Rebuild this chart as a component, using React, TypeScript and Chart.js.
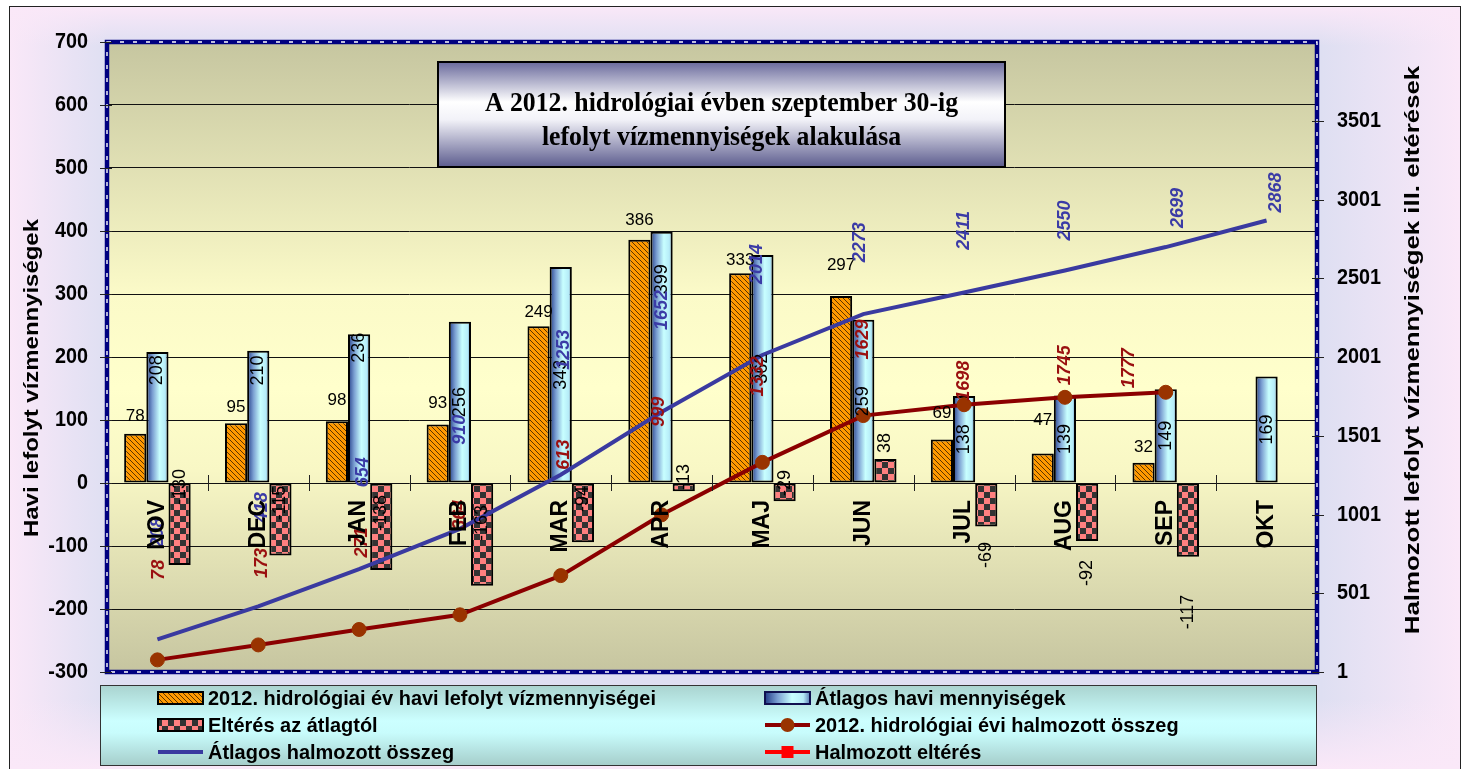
import React, { useEffect, useRef } from "react";
import { Chart, registerables } from "chart.js";
Chart.register(...registerables);

// ---------- data ----------
const months = ["NOV", "DEC", "JAN", "FEB", "MAR", "APR", "MAJ", "JUN", "JUL", "AUG", "SEP", "OKT"];
const monthly2012 = [78, 95, 98, 93, 249, 386, 333, 297, 69, 47, 32, null];
const monthlyAvg = [208, 210, 236, 256, 343, 399, 362, 259, 138, 139, 149, 169];
const deviation = [-130, -115, -138, -163, -94, -13, -29, 38, -69, -92, -117, null];
const cum2012 = [78, 173, 271, 364, 613, 999, 1332, 1629, 1698, 1745, 1777, null];
const cumAvg = [208, 418, 654, 910, 1253, 1652, 2014, 2273, 2411, 2550, 2699, 2868];
const cumDeviation: (number | null)[] = [null, null, null, null, null, null, null, null, null, null, null, null];

const seriesNames = [
  "2012. hidrológiai év havi lefolyt vízmennyiségei",
  "Átlagos havi mennyiségek",
  "Eltérés az átlagtól",
  "2012. hidrológiai évi halmozott összeg",
  "Átlagos halmozott összeg",
  "Halmozott eltérés",
];
const titleLines = ["A 2012. hidrológiai évben szeptember 30-ig", "lefolyt vízmennyiségek alakulása"];
const leftAxisTitle = "Havi lefolyt vízmennyiségek";
const rightAxisTitle = "Halmozott lefolyt vízmennyiségek ill. eltérések";

// label placement tweaks (as in the original, hand-placed labels)
const orangeLabelGap = [13, 11, 16, 16, 9, 15, 8, 26, 22, 28, 11, 0];
const avgLabelPos = [0.86, 0.85, 0.91, 0.5, 0.5, 0.81, 0.5, 0.5, 0.5, 0.5, 0.5, 0.5];
const devLabelShift = [4, 20, 30, 40, 16, -6, 0, -40, 72, 90, 129, 0];
const cum2012LabelDy = [-90, -82, -87, -100, -121, -103, -86, -76, -24, -32, -24, 0];
const cum2012LabelDx = [2, 4, 3, 0, 3, -3, -4, 0, 0, 0, -37, 0];
const cumAvgLabelDy = [-107, -99, -97, -99, -125, -102, -91, -72, -62, -50, -39, -28];
const cumAvgLabelDx = [1, 4, 4, 0, 3, 0, -5, -3, 0, 0, 12, 9];

const SANS = "'Liberation Sans', Arial, Helvetica, sans-serif";
const SERIF = "'Liberation Serif', 'Times New Roman', serif";
const CAT_PCT = 0.66;

type TxtOpt = { font: string; color?: string; align?: CanvasTextAlign; baseline?: CanvasTextBaseline; rot?: number; sx?: number };
function txt(ctx: CanvasRenderingContext2D, s: string, x: number, y: number, o: TxtOpt) {
  ctx.save();
  ctx.translate(x, y);
  if (o.rot) ctx.rotate(o.rot);
  if (o.sx) ctx.scale(o.sx, 1);
  ctx.font = o.font;
  ctx.fillStyle = o.color || "#000";
  ctx.textAlign = o.align || "center";
  ctx.textBaseline = o.baseline || "middle";
  ctx.fillText(s, 0, 0);
  ctx.restore();
}

function makeHatch(): CanvasPattern | string {
  const c = document.createElement("canvas");
  const s = 5;
  c.width = s;
  c.height = s;
  const g = c.getContext("2d");
  if (!g) return "#ff9900";
  g.fillStyle = "#ff9900";
  g.fillRect(0, 0, s, s);
  g.strokeStyle = "#4a2800";
  g.lineWidth = 0.9;
  g.beginPath();
  g.moveTo(-1, -1);
  g.lineTo(s + 1, s + 1);
  g.moveTo(-1, s - 1);
  g.lineTo(1, s + 1);
  g.moveTo(s - 1, -1);
  g.lineTo(s + 1, 1);
  g.stroke();
  return g.createPattern(c, "repeat") || "#ff9900";
}

function makeChecker(): CanvasPattern | string {
  const c = document.createElement("canvas");
  const s = 6;
  c.width = s * 2;
  c.height = s * 2;
  const g = c.getContext("2d");
  if (!g) return "#ff8080";
  g.fillStyle = "#ff8080";
  g.fillRect(0, 0, s * 2, s * 2);
  g.fillStyle = "#333333";
  g.fillRect(0, 0, s, s);
  g.fillRect(s, s, s, s);
  return g.createPattern(c, "repeat") || "#ff8080";
}

function cylGradient(ctx: CanvasRenderingContext2D, x0: number, x1: number) {
  const g = ctx.createLinearGradient(x0, 0, x1, 0);
  g.addColorStop(0, "#233d88");
  g.addColorStop(0.28, "#7b9fd2");
  g.addColorStop(0.6, "#c8ffff");
  g.addColorStop(0.85, "#b6ecf8");
  g.addColorStop(1, "#5a7db6");
  return g;
}

export default function App() {
  const ref = useRef<HTMLCanvasElement | null>(null);

  useEffect(() => {
    const canvas = ref.current;
    if (!canvas) return;
    const hatch = makeHatch();
    const checker = makeChecker();

    const decor = {
      id: "decor",
      beforeDraw(chart: any) {
        const ctx: CanvasRenderingContext2D = chart.ctx;
        const W = chart.width, H = chart.height;
        const a = chart.chartArea;
        ctx.save();
        ctx.fillStyle = "#ffffff";
        ctx.fillRect(0, 0, W, H);
        // outer frame background
        const fx = 9, fy = 6, fw = 1451, fh = H - fy + 2;
        ctx.fillStyle = "#dedff2";
        ctx.fillRect(fx, fy, fw, fh);
        const edge = (x0: number, y0: number, x1: number, y1: number) => {
          const g = ctx.createLinearGradient(x0, y0, x1, y1);
          g.addColorStop(0, "rgba(250,232,248,1)");
          g.addColorStop(1, "rgba(250,232,248,0)");
          return g;
        };
        ctx.fillStyle = edge(fx, 0, fx + 100, 0);
        ctx.fillRect(fx, fy, 100, fh);
        ctx.fillStyle = edge(fx + fw, 0, fx + fw - 140, 0);
        ctx.fillRect(fx + fw - 140, fy, 140, fh);
        ctx.fillStyle = edge(0, fy, 0, fy + 40);
        ctx.fillRect(fx, fy, fw, 40);
        ctx.fillStyle = edge(0, H, 0, H - 70);
        ctx.fillRect(fx, H - 70, fw, 70);
        ctx.strokeStyle = "#222";
        ctx.lineWidth = 1;
        ctx.strokeRect(fx + 0.5, fy + 0.5, fw, fh);
        // plot area gradient
        const pg = ctx.createLinearGradient(0, a.top, 0, a.bottom);
        pg.addColorStop(0, "#c6c6a0");
        pg.addColorStop(0.4, "#fbfac8");
        pg.addColorStop(0.55, "#ffffcc");
        pg.addColorStop(0.68, "#f8f7c5");
        pg.addColorStop(1, "#c6c5a0");
        ctx.fillStyle = pg;
        ctx.fillRect(a.left, a.top, a.right - a.left, a.bottom - a.top);
        ctx.restore();
      },
      afterDatasetsDraw(chart: any) {
        const ctx: CanvasRenderingContext2D = chart.ctx;
        const a = chart.chartArea;
        const xs = chart.scales.x, ys = chart.scales.y, y1 = chart.scales.y1;
        const zero = ys.getPixelForValue(0);
        const R = -Math.PI / 2;
        ctx.save();
        // value labels of bars
        const mO = chart.getDatasetMeta(0), mA = chart.getDatasetMeta(1), mD = chart.getDatasetMeta(2);
        const mC = chart.getDatasetMeta(3), mCA = chart.getDatasetMeta(4);
        monthly2012.forEach((v, i) => {
          if (v == null) return;
          const el: any = mO.data[i];
          txt(ctx, String(v), el.x, el.y - orangeLabelGap[i], { font: `17px ${SANS}`, baseline: "alphabetic" });
        });
        monthlyAvg.forEach((v, i) => {
          const el: any = mA.data[i];
          const y = el.base + (el.y - el.base) * avgLabelPos[i];
          txt(ctx, String(v), el.x, y, { font: `18px ${SANS}`, rot: R });
        });
        deviation.forEach((v, i) => {
          if (v == null) return;
          const el: any = mD.data[i];
          txt(ctx, String(v), el.x, zero + devLabelShift[i], { font: `18px ${SANS}`, rot: R });
        });
        cum2012.forEach((v, i) => {
          if (v == null) return;
          const p: any = mC.data[i];
          txt(ctx, String(v), p.x + cum2012LabelDx[i], p.y + cum2012LabelDy[i], {
            font: `italic bold 18px ${SANS}`, color: "#9a1010", rot: R,
          });
        });
        cumAvg.forEach((v, i) => {
          const p: any = mCA.data[i];
          txt(ctx, String(v), p.x + cumAvgLabelDx[i], p.y + cumAvgLabelDy[i], {
            font: `italic bold 18px ${SANS}`, color: "#3b3ba6", rot: R,
          });
        });
        // category labels + ticks on the zero line
        months.forEach((m, i) => {
          txt(ctx, m, xs.getPixelForValue(i), zero + 17, { font: `bold 23px ${SANS}`, rot: R, align: "right" });
        });
        ctx.strokeStyle = "#222";
        ctx.lineWidth = 1;
        ctx.beginPath();
        for (let i = 1; i < months.length; i++) {
          const bx = Math.round((xs.getPixelForValue(i - 1) + xs.getPixelForValue(i)) / 2) + 0.5;
          ctx.moveTo(bx, zero - 8);
          ctx.lineTo(bx, zero + 8);
        }
        ctx.stroke();
        // plot border (navy with white dashes)
        ctx.strokeStyle = "#000080";
        ctx.lineWidth = 4.5;
        ctx.strokeRect(a.left, a.top, a.right - a.left, a.bottom - a.top);
        ctx.strokeStyle = "#ffffff";
        ctx.lineWidth = 1.4;
        ctx.setLineDash([4, 9]);
        ctx.strokeRect(a.left, a.top, a.right - a.left, a.bottom - a.top);
        ctx.setLineDash([]);
        // axis ticks + labels
        ctx.strokeStyle = "#222";
        ctx.lineWidth = 1;
        ctx.beginPath();
        ys.ticks.forEach((t: any) => {
          const y = Math.round(ys.getPixelForValue(t.value)) + 0.5;
          ctx.moveTo(a.left - 7, y);
          ctx.lineTo(a.left + 5, y);
        });
        y1.ticks.forEach((t: any) => {
          if (t.value > 3600) return;
          const y = Math.round(y1.getPixelForValue(t.value)) + 0.5;
          ctx.moveTo(a.right - 5, y);
          ctx.lineTo(a.right + 7, y);
        });
        ctx.stroke();
        ys.ticks.forEach((t: any) => {
          txt(ctx, String(t.value), a.left - 19, ys.getPixelForValue(t.value), {
            font: `bold 22px ${SANS}`, align: "right", sx: 0.9,
          });
        });
        y1.ticks.forEach((t: any) => {
          if (t.value > 3600) return;
          txt(ctx, String(t.value), a.right + 20, y1.getPixelForValue(t.value), {
            font: `bold 22px ${SANS}`, align: "left", sx: 0.9,
          });
        });
        // axis titles
        txt(ctx, leftAxisTitle, 32, 378, { font: `bold 21px ${SANS}`, rot: R, sx: 1.14 });
        txt(ctx, rightAxisTitle, 1413, 350, { font: `bold 21px ${SANS}`, rot: R, sx: 1.23 });
        ctx.restore();
      },
      afterDraw(chart: any) {
        const ctx: CanvasRenderingContext2D = chart.ctx;
        ctx.save();
        // title box
        const tx = 438, ty = 62, tw = 567, th = 105;
        const tg = ctx.createLinearGradient(0, ty, 0, ty + th);
        tg.addColorStop(0, "#6a6a9c");
        tg.addColorStop(0.38, "#ffffff");
        tg.addColorStop(0.55, "#f2f2f8");
        tg.addColorStop(1, "#5c5c8e");
        ctx.fillStyle = tg;
        ctx.fillRect(tx, ty, tw, th);
        ctx.strokeStyle = "#000";
        ctx.lineWidth = 2;
        ctx.strokeRect(tx, ty, tw, th);
        txt(ctx, titleLines[0], tx + tw / 2, 104, { font: `bold 28px ${SERIF}`, sx: 0.92 });
        txt(ctx, titleLines[1], tx + tw / 2, 138, { font: `bold 28px ${SERIF}`, sx: 0.92 });
        // legend box
        const lx = 100, ly = 685, lw = 1216, lh = 80;
        const lg = ctx.createLinearGradient(0, ly, 0, ly + lh);
        lg.addColorStop(0, "#a9d3cf");
        lg.addColorStop(0.45, "#ccffff");
        lg.addColorStop(0.6, "#c8fcfc");
        lg.addColorStop(1, "#a6cecb");
        ctx.fillStyle = lg;
        ctx.fillRect(lx, ly, lw, lh);
        ctx.strokeStyle = "#333";
        ctx.lineWidth = 1;
        ctx.strokeRect(lx + 0.5, ly + 0.5, lw, lh);
        const rows = [698, 725, 752];
        const cols = [158, 765];
        const sw = 45, sh = 12;
        const items = [
          { c: 0, r: 0, k: "hatch" },
          { c: 1, r: 0, k: "cyl" },
          { c: 0, r: 1, k: "check" },
          { c: 1, r: 1, k: "redline" },
          { c: 0, r: 2, k: "blueline" },
          { c: 1, r: 2, k: "sq" },
        ];
        items.forEach((it, idx) => {
          const sx0 = cols[it.c], cy = rows[it.r];
          if (it.k === "hatch" || it.k === "check" || it.k === "cyl") {
            ctx.fillStyle = it.k === "hatch" ? (hatch as any) : it.k === "check" ? (checker as any) : cylGradient(ctx, sx0, sx0 + sw);
            ctx.fillRect(sx0, cy - sh / 2, sw, sh);
            ctx.strokeStyle = it.k === "cyl" ? "#101050" : "#000";
            ctx.lineWidth = 2;
            ctx.strokeRect(sx0, cy - sh / 2, sw, sh);
          } else {
            const col = it.k === "redline" ? "#8b0000" : it.k === "blueline" ? "#3a3aa0" : "#ff0000";
            ctx.strokeStyle = col;
            ctx.lineWidth = 4;
            ctx.beginPath();
            ctx.moveTo(sx0, cy);
            ctx.lineTo(sx0 + sw, cy);
            ctx.stroke();
            if (it.k === "redline") {
              ctx.fillStyle = "#993300";
              ctx.beginPath();
              ctx.arc(sx0 + sw / 2, cy, 7, 0, Math.PI * 2);
              ctx.fill();
            } else if (it.k === "sq") {
              ctx.fillStyle = "#ff0000";
              ctx.fillRect(sx0 + sw / 2 - 6, cy - 6, 12, 12);
            }
          }
          txt(ctx, seriesNames[idx], sx0 + sw + 5, cy + 1, { font: `bold 21px ${SANS}`, align: "left", sx: 0.95 });
        });
        ctx.restore();
      },
    };

    const barCommon = {
      type: "bar" as const,
      yAxisID: "y",
      borderColor: "#000",
      borderWidth: 2,
      borderSkipped: false,
      barPercentage: 1,
      categoryPercentage: CAT_PCT,
      order: 2,
    };

    const chart = new Chart(canvas, {
      type: "bar",
      data: {
        labels: months,
        datasets: [
          { ...barCommon, label: seriesNames[0], data: monthly2012, backgroundColor: hatch as any },
          {
            ...barCommon,
            label: seriesNames[1],
            data: monthlyAvg,
            backgroundColor: (c: any) => {
              const ch = c.chart;
              const xs = ch.scales && ch.scales.x;
              if (!xs || c.dataIndex == null || !ch.chartArea) return "#bfefff";
              const cx = xs.getPixelForValue(c.dataIndex);
              const w = (xs.width / months.length) * CAT_PCT / 3;
              return cylGradient(ch.ctx, cx - w / 2, cx + w / 2);
            },
          },
          { ...barCommon, label: seriesNames[2], data: deviation, backgroundColor: checker as any },
          {
            type: "line",
            label: seriesNames[3],
            data: cum2012,
            yAxisID: "y1",
            borderColor: "#8b0000",
            borderWidth: 4,
            pointRadius: 7,
            pointBackgroundColor: "#993300",
            pointBorderColor: "#993300",
            pointBorderWidth: 1,
            tension: 0,
            order: 0,
          },
          {
            type: "line",
            label: seriesNames[4],
            data: cumAvg,
            yAxisID: "y1",
            borderColor: "#3a3aa0",
            borderWidth: 4,
            pointRadius: 0,
            tension: 0,
            order: 1,
          },
          {
            type: "line",
            label: seriesNames[5],
            data: cumDeviation,
            yAxisID: "y1",
            borderColor: "#ff0000",
            borderWidth: 4,
            pointStyle: "rect",
            pointRadius: 6,
            pointBackgroundColor: "#ff0000",
            order: 0,
          },
        ] as any,
      },
      options: {
        animation: false,
        responsive: false,
        maintainAspectRatio: false,
        layout: { padding: { top: 42, bottom: 97, left: 0, right: 0 } },
        plugins: { legend: { display: false }, tooltip: { enabled: false }, title: { display: false } },
        scales: {
          x: { display: false, offset: true, grid: { display: false } },
          y: {
            position: "left",
            min: -300,
            max: 700,
            ticks: { stepSize: 100, display: false },
            grid: { color: "#111", lineWidth: 1, drawTicks: false },
            border: { display: false },
            afterFit: (s: any) => { s.width = 107; },
          },
          y1: {
            position: "right",
            min: 1,
            max: 4001,
            ticks: { stepSize: 500, display: false },
            grid: { display: false, drawOnChartArea: false },
            border: { display: false },
            afterFit: (s: any) => { s.width = 150; },
          },
        },
      } as any,
      plugins: [decor],
    });
    return () => chart.destroy();
  }, []);

  return (
    <div style={{ position: "fixed", left: 0, top: 0, width: 1467, height: 769 }}>
      <canvas ref={ref} width={1467} height={769} style={{ display: "block" }} />
    </div>
  );
}
